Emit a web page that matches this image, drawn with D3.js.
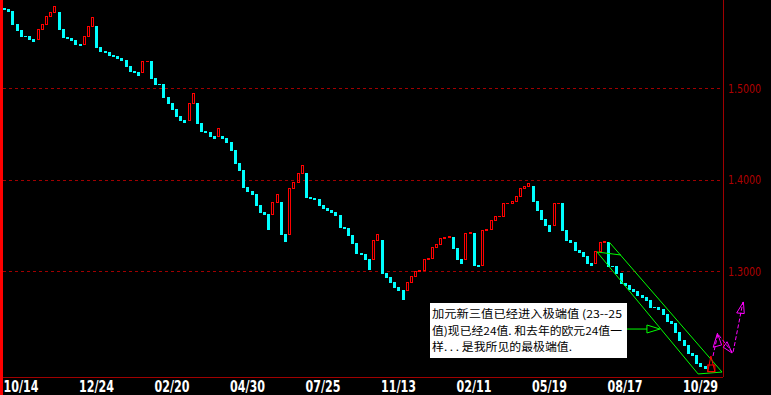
<!DOCTYPE html>
<html>
<head>
<meta charset="utf-8">
<script src="https://cdn.jsdelivr.net/npm/d3@7"></script>
<style>
body { margin: 0; background: #000; }
svg { display: block; }
</style>
</head>
<body>
<svg id="chart" width="771" height="395"></svg>
<script>
// new-three-value boxes, open and close of each box
var boxOpen = [
  1.5878,1.5867,1.5845,1.5708,1.5632,1.5577,1.5572,1.5544,1.5544,1.5648,
  1.5703,1.5785,1.5839,1.5839,1.5643,1.5566,1.5555,1.5533,1.5479,1.5479,
  1.5577,1.5686,1.5686,1.5446,1.5413,1.5402,1.5369,1.5348,1.5326,1.5304,
  1.5249,1.5184,1.5173,1.5173,1.5293,1.5293,1.5118,1.5052,1.5042,1.4910,
  1.4834,1.4779,1.4692,1.4659,1.4659,1.4834,1.4834,1.4626,1.4528,1.4517,
  1.4484,1.4484,1.4484,1.4462,1.4408,1.4331,1.4189,1.4102,1.3916,1.3883,
  1.3850,1.3730,1.3643,1.3621,1.3621,1.3752,1.3752,1.3413,1.3413,1.3905,
  1.3971,1.4069,1.4069,1.3807,1.3796,1.3785,1.3730,1.3697,1.3665,1.3643,
  1.3610,1.3479,1.3473,1.3402,1.3304,1.3205,1.3184,1.3129,1.3129,1.3337,
  1.3337,1.2976,1.2943,1.2878,1.2823,1.2801,1.2801,1.2878,1.2954,1.3003,
  1.3009,1.3134,1.3140,1.3271,1.3298,1.3369,1.3375,1.3375,1.3260,1.3129,
  1.3129,1.3419,1.3419,1.3074,1.3074,1.3446,1.3457,1.3566,1.3599,1.3604,
  1.3741,1.3746,1.3768,1.3828,1.3905,1.3927,1.3927,1.3763,1.3675,1.3577,
  1.3501,1.3501,1.3741,1.3741,1.3446,1.3337,1.3315,1.3238,1.3216,1.3162,
  1.3096,1.3096,1.3227,1.3320,1.3320,1.3063,1.3058,1.2976,1.2867,1.2850,
  1.2812,1.2790,1.2746,1.2714,1.2681,1.2615,1.2610,1.2593,1.2528,1.2462,
  1.2440,1.2342,1.2244,1.2200,1.2102,1.2080,1.2003,1.1965
];
var boxClose = [
  1.5867,1.5845,1.5708,1.5632,1.5577,1.5572,1.5544,1.5517,1.5648,1.5703,
  1.5785,1.5839,1.5899,1.5643,1.5566,1.5555,1.5533,1.5479,1.5473,1.5577,
  1.5686,1.5779,1.5446,1.5413,1.5402,1.5369,1.5348,1.5326,1.5304,1.5249,
  1.5184,1.5173,1.5145,1.5293,1.5298,1.5118,1.5052,1.5042,1.4910,1.4834,
  1.4779,1.4692,1.4659,1.4632,1.4834,1.4949,1.4626,1.4528,1.4517,1.4484,
  1.4457,1.4566,1.4462,1.4408,1.4331,1.4189,1.4102,1.3916,1.3883,1.3850,
  1.3730,1.3643,1.3621,1.3462,1.3752,1.3845,1.3413,1.3331,1.3905,1.3971,
  1.4069,1.4162,1.3807,1.3796,1.3785,1.3730,1.3697,1.3665,1.3643,1.3610,
  1.3479,1.3473,1.3402,1.3304,1.3205,1.3184,1.3129,1.3025,1.3337,1.3408,
  1.2976,1.2943,1.2878,1.2823,1.2801,1.2697,1.2878,1.2954,1.3003,1.3009,
  1.3134,1.3140,1.3271,1.3298,1.3369,1.3375,1.3386,1.3260,1.3129,1.3091,
  1.3419,1.3430,1.3074,1.3058,1.3446,1.3457,1.3566,1.3599,1.3604,1.3741,
  1.3746,1.3768,1.3828,1.3905,1.3927,1.3965,1.3763,1.3675,1.3577,1.3501,
  1.3440,1.3741,1.3746,1.3446,1.3337,1.3315,1.3238,1.3216,1.3162,1.3096,
  1.3069,1.3227,1.3320,1.3331,1.3063,1.3058,1.2976,1.2867,1.2850,1.2812,
  1.2790,1.2746,1.2714,1.2681,1.2615,1.2610,1.2593,1.2528,1.2462,1.2440,
  1.2342,1.2244,1.2200,1.2102,1.2080,1.2003,1.1965,1.1943
];
var dateLabels = ["10/14","12/24","02/20","04/30","07/25","11/13","02/11","05/19","08/17","10/29"];
var dateIndex = [0, 18, 36, 54, 72, 90, 108, 126, 144, 162];
var priceTicks = [1.5, 1.4, 1.3];

// hand drawn notes, as [box index, price]
var channelLines = [
  [[144.5, 1.3320], [171.4, 1.1899]],
  [[141.6, 1.3211], [165.7, 1.1878]],
  [[141.6, 1.3211], [147.3, 1.3178]],
  [[165.7, 1.1878], [171.4, 1.1899]]
];
var greenArrow = [[148.7, 1.2369], [153.5, 1.2369]];
var greenHead = [[153.5, 1.2413], [153.5, 1.2326], [156.6, 1.2369], [153.5, 1.2413]];
var pinkPath = [[169.25, 1.2074], [170.4, 1.2315], [174.0, 1.2107], [176.4, 1.2665]];
var pinkHeads = [
  [[170.3, 1.2323], [169.3, 1.2170], [171.3, 1.2195], [170.3, 1.2323]],
  [[172.6, 1.2230], [171.7, 1.2170], [173.8, 1.2107], [172.6, 1.2230]],
  [[176.5, 1.2665], [174.9, 1.2545], [176.7, 1.2538], [176.5, 1.2665]]
];
var redMark = [[168.75, 1.2074], [168.0, 1.1903], [169.7, 1.1903], [168.75, 1.2074]];
var redMarkBox = [[168.0, 1.1976], [169.7, 1.1903]];
var noteLines = ["加元新三值已经进入极端值 (23--25", "值)现已经24值. 和去年的欧元24值一", "样. . . 是我所见的最极端值."];

var W = 771, H = 395;
var left = 3, right = 723, bottom = 377;
var step = 4.195;
var N = boxOpen.length;

var svg = d3.select("#chart");
svg.append("rect").attr("width", W).attr("height", H).attr("fill", "#000");

var x = d3.scaleBand()
    .domain(d3.range(N))
    .range([left, left + (N - 0.285) * step])
    .paddingInner(0.285)
    .paddingOuter(0);
// index scale for the notes drawn between boxes
var xi = d3.scaleLinear().domain([0, 1]).range([left, left + step]);
var y = d3.scaleLinear().domain([1.5, 1.3]).range([88.3, 271.3]);
var pt = d => [xi(d[0]), y(d[1])];

// grid
svg.append("g").selectAll("line")
    .data(priceTicks)
  .enter().append("line")
    .attr("x1", left).attr("x2", right)
    .attr("y1", d => Math.round(y(d)) + 0.5)
    .attr("y2", d => Math.round(y(d)) + 0.5)
    .attr("stroke", "#a00000")
    .attr("stroke-dasharray", "3,3");

// right price axis
var yAxis = g => g
    .attr("transform", "translate(" + right + ",0)")
    .call(d3.axisRight(y).tickValues(priceTicks).tickFormat(d3.format(".4f")).tickSize(0).tickPadding(5))
    .call(g => g.select(".domain").remove())
    .call(g => g.selectAll("text")
        .attr("fill", "#b00000")
        .attr("font-family", "'Liberation Sans Narrow', 'DejaVu Sans Condensed', sans-serif")
        .attr("font-size", 13)
        .attr("textLength", 33)
        .attr("lengthAdjust", "spacingAndGlyphs"));
svg.append("g").call(yAxis);

// date axis
var xAxis = g => g
    .attr("transform", "translate(0," + bottom + ")")
    .call(d3.axisBottom(x).tickValues(dateIndex).tickFormat((d, k) => dateLabels[k]).tickSize(0).tickPadding(0))
    .call(g => g.select(".domain").remove())
    .call(g => g.selectAll("text")
        .attr("text-anchor", "start")
        .attr("x", 0.5 - x.bandwidth() / 2)
        .attr("y", 15)
        .attr("dy", 0)
        .attr("fill", "#fff")
        .attr("font-weight", "bold")
        .attr("font-family", "'Liberation Sans Narrow', 'DejaVu Sans Condensed', sans-serif")
        .attr("font-size", 16)
        .attr("textLength", 35)
        .attr("lengthAdjust", "spacingAndGlyphs"));
svg.append("g").call(xAxis);

// frame
svg.append("line").attr("x1", left).attr("x2", right).attr("y1", bottom + 0.5).attr("y2", bottom + 0.5).attr("stroke", "#a00000");
svg.append("line").attr("x1", right + 0.5).attr("x2", right + 0.5).attr("y1", 0).attr("y2", bottom).attr("stroke", "#a00000");
svg.append("rect").attr("x", 0).attr("y", 0).attr("width", 3).attr("height", H).attr("fill", "#ff0000");

// boxes
var boxes = d3.range(N).map(function(i) {
  var o = boxOpen[i], c = boxClose[i];
  var y0 = Math.round(y(Math.max(o, c))), y1 = Math.round(y(Math.min(o, c)));
  return {i: i, up: c > o, y0: y0, y1: y1, x: Math.round(x(i))};
});

var bar = svg.append("g").attr("shape-rendering", "crispEdges");
bar.selectAll("rect.down")
    .data(boxes.filter(d => !d.up || d.y1 - d.y0 < 2))
  .enter().append("rect")
    .attr("class", "down")
    .attr("x", d => d.x)
    .attr("y", d => d.y0)
    .attr("width", 3)
    .attr("height", d => Math.max(1, d.y1 - d.y0 + 1))
    .attr("fill", d => d.up ? "#ff0000" : "#00ffff");
bar.selectAll("rect.up")
    .data(boxes.filter(d => d.up && d.y1 - d.y0 >= 2))
  .enter().append("rect")
    .attr("class", "up")
    .attr("x", d => d.x + 0.5)
    .attr("y", d => d.y0 + 0.5)
    .attr("width", 2)
    .attr("height", d => d.y1 - d.y0)
    .attr("fill", "none")
    .attr("stroke", "#ff0000");

// notes
var line = d3.line().x(d => pt(d)[0]).y(d => pt(d)[1]);
var notes = svg.append("g").attr("fill", "none");
notes.selectAll("path.ch")
    .data(channelLines)
  .enter().append("path")
    .attr("d", line)
    .attr("stroke", "#00ff00");
notes.append("path").attr("d", line(greenArrow)).attr("stroke", "#00ff00");
notes.append("path").attr("d", line(greenHead)).attr("stroke", "#00ff00");
notes.append("path").attr("d", line(redMark)).attr("stroke", "#ff0000");
notes.append("rect")
    .attr("x", xi(redMarkBox[0][0])).attr("y", y(redMarkBox[0][1]))
    .attr("width", xi(redMarkBox[1][0]) - xi(redMarkBox[0][0]))
    .attr("height", y(redMarkBox[1][1]) - y(redMarkBox[0][1]))
    .attr("stroke", "#ff0000");
notes.append("path").attr("d", line(pinkPath)).attr("stroke", "#ff00ff").attr("stroke-dasharray", "4,2");
notes.selectAll("path.ph")
    .data(pinkHeads)
  .enter().append("path")
    .attr("d", line)
    .attr("stroke", "#ff00ff");

// text box
var box = svg.append("g");
box.append("rect").attr("x", 430).attr("y", 303).attr("width", 197).attr("height", 55).attr("fill", "#fff");
box.selectAll("text")
    .data(noteLines)
  .enter().append("text")
    .attr("x", 432)
    .attr("y", (d, k) => 318 + k * 16.5)
    .attr("fill", "#000")
    .attr("font-family", "'Noto Sans CJK SC', sans-serif")
    .attr("font-size", 11)
    .attr("textLength", (d, k) => [190, 190, 140][k])
    .attr("lengthAdjust", "spacingAndGlyphs")
    .text(d => d);
</script>
</body>
</html>
